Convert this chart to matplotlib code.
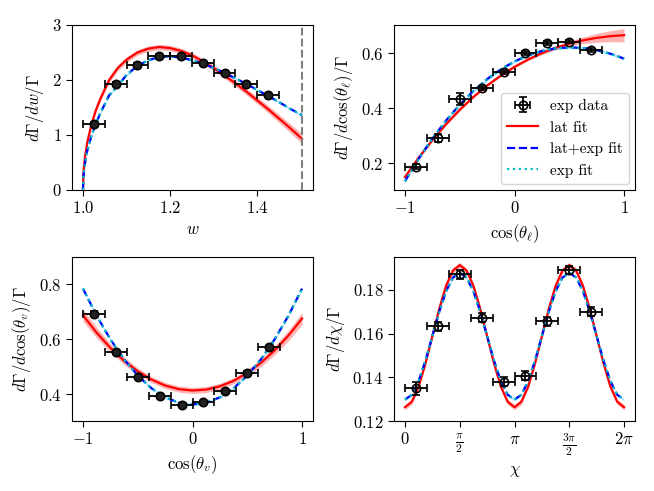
import numpy as np
import matplotlib
matplotlib.use("Agg")
import matplotlib.pyplot as plt

plt.rcParams['font.family'] = 'serif'
plt.rcParams['font.serif'] = ['cmr10']
plt.rcParams['mathtext.fontset'] = 'cm'
plt.rcParams['axes.formatter.use_mathtext'] = True
plt.rcParams['axes.unicode_minus'] = True

# ---------------- data: panel 1 (w) ----------------
w_data = [1.025, 1.075, 1.125, 1.175, 1.225, 1.275, 1.325, 1.375, 1.425]
w_vals = [1.20, 1.93, 2.28, 2.44, 2.43, 2.30, 2.13, 1.93, 1.72]
w_yerr = [0.03, 0.03, 0.03, 0.03, 0.03, 0.03, 0.03, 0.03, 0.03]
w_xerr = 0.025
w_max = 1.503
w_grid = [1.0, 1.001, 1.0025, 1.005, 1.01, 1.02, 1.03, 1.04, 1.06, 1.08, 1.10,
          1.125, 1.15, 1.175, 1.2, 1.225, 1.25, 1.275, 1.3, 1.325, 1.35, 1.375,
          1.4, 1.425, 1.45, 1.475, 1.503]
w_lat = [0, 0.28, 0.44, 0.62, 0.87, 1.21, 1.46, 1.66, 2.00, 2.22, 2.37, 2.50,
         2.57, 2.60, 2.58, 2.53, 2.45, 2.34, 2.22, 2.08, 1.94, 1.79, 1.63, 1.47,
         1.30, 1.13, 0.93]
w_lat_band = [0, 0.015, 0.02, 0.025, 0.03, 0.04, 0.045, 0.05, 0.05, 0.05, 0.05,
              0.05, 0.05, 0.05, 0.05, 0.05, 0.05, 0.05, 0.05, 0.052, 0.055, 0.058,
              0.062, 0.066, 0.072, 0.08, 0.09]
w_exp = [0, 0.23, 0.35, 0.50, 0.72, 1.00, 1.21, 1.40, 1.72, 1.90, 2.09, 2.26,
         2.36, 2.42, 2.43, 2.41, 2.36, 2.30, 2.22, 2.13, 2.03, 1.93, 1.82, 1.71,
         1.60, 1.48, 1.36]
w_exp_band = 0.02

# ---------------- data: panel 2 (cos theta_l) ----------------
cl_data = [-0.9, -0.7, -0.5, -0.3, -0.1, 0.1, 0.3, 0.5, 0.7]
cl_vals = [0.188, 0.291, 0.433, 0.473, 0.532, 0.600, 0.637, 0.642, 0.611]
cl_yerr = [0.010, 0.015, 0.022, 0.008, 0.007, 0.007, 0.007, 0.007, 0.007]
cl_xerr = 0.1
cl_grid = np.linspace(-1, 1, 17)
cl_lat = [0.150, 0.2204, 0.2843, 0.3422, 0.3944, 0.441, 0.4821, 0.5185, 0.550,
          0.5771, 0.6001, 0.619, 0.6344, 0.6464, 0.6553, 0.6614, 0.665]
cl_lat_band = [0.008, 0.007, 0.006, 0.005, 0.005, 0.004, 0.004, 0.004, 0.004,
               0.005, 0.006, 0.007, 0.009, 0.012, 0.016, 0.020, 0.024]
cl_exp = [0.135, 0.2166, 0.290, 0.3553, 0.4129, 0.4629, 0.5056, 0.5413, 0.570,
          0.5921, 0.6078, 0.6173, 0.6209, 0.6187, 0.611, 0.598, 0.580]
cl_exp_band = 0.005

# ---------------- data: panel 3 (cos theta_v) ----------------
cv_data = [-0.9, -0.7, -0.5, -0.3, -0.1, 0.1, 0.3, 0.5, 0.7]
cv_vals = [0.693, 0.553, 0.462, 0.394, 0.362, 0.371, 0.411, 0.478, 0.570]
cv_yerr = [0.008, 0.005, 0.005, 0.005, 0.005, 0.005, 0.005, 0.005, 0.005]
cv_xerr = 0.1
cv_grid = np.linspace(-1, 1, 17)
cv_lat = [0.687, 0.6234, 0.5683, 0.5214, 0.483, 0.4529, 0.4313, 0.418, 0.413,
          0.4164, 0.4283, 0.4484, 0.477, 0.5139, 0.5593, 0.6129, 0.675]
cv_lat_band = [0.022, 0.019, 0.016, 0.014, 0.012, 0.011, 0.011, 0.011, 0.011,
               0.011, 0.011, 0.011, 0.012, 0.014, 0.016, 0.019, 0.022]
cv_exp = [0.784, 0.6851, 0.5994, 0.5268, 0.4675, 0.4213, 0.3884, 0.3686, 0.362,
          0.3686, 0.3884, 0.4213, 0.4675, 0.5268, 0.5994, 0.6851, 0.784]
cv_exp_band = 0.004

# ---------------- data: panel 4 (chi) ----------------
chi_data = np.array([0.1, 0.3, 0.5, 0.7, 0.9, 1.1, 1.3, 1.5, 1.7]) * np.pi
chi_vals = [0.135, 0.1633, 0.187, 0.1673, 0.1379, 0.1408, 0.1656, 0.189, 0.170]
chi_yerr = [0.003, 0.002, 0.002, 0.002, 0.002, 0.002, 0.002, 0.002, 0.002]
chi_xerr = 0.1 * np.pi
chi_grid = np.arange(33) * np.pi / 16
chi_lat = [0.1263, 0.1288, 0.1358, 0.1464, 0.1588, 0.1712, 0.1818, 0.1888, 0.1913,
           0.1888, 0.1818, 0.1712, 0.1588, 0.1464, 0.1358, 0.1288, 0.1263,
           0.1288, 0.1358, 0.1464, 0.1588, 0.1712, 0.1818, 0.1888, 0.1913,
           0.1888, 0.1818, 0.1712, 0.1588, 0.1464, 0.1358, 0.1288, 0.1263]
chi_lat_band = 0.0012
chi_exp = [0.1298, 0.1320, 0.1383, 0.1477, 0.1588, 0.1699, 0.1793, 0.1856, 0.1878,
           0.1856, 0.1793, 0.1699, 0.1588, 0.1477, 0.1383, 0.1320, 0.1298,
           0.1320, 0.1383, 0.1477, 0.1588, 0.1699, 0.1793, 0.1856, 0.1878,
           0.1856, 0.1793, 0.1699, 0.1588, 0.1477, 0.1383, 0.1320, 0.1298]
chi_exp_band = 0.0005

chi_ticks = [0, np.pi / 2, np.pi, 3 * np.pi / 2, 2 * np.pi]
chi_ticklabels = [r'$0$', r'$\frac{\pi}{2}$', r'$\pi$', r'$\frac{3\pi}{2}$', r'$2\pi$']

# ---------------- figure ----------------
fig = plt.figure(figsize=(6.54, 4.91), dpi=100)
W, H = 654, 491
def ax_at(l, t, r, b):
    return fig.add_axes([l / W, 1 - b / H, (r - l) / W, (b - t) / H])

ax1 = ax_at(72, 25, 313, 190)
ax2 = ax_at(394, 25, 635, 190)
ax3 = ax_at(72, 257, 313, 421)
ax4 = ax_at(394, 257, 635, 421)

FS = 12

def draw(ax, x, lat, lat_b, exp, exp_b, xd, yd, xe, ye, filled):
    x = np.asarray(x)
    lat = np.asarray(lat); exp = np.asarray(exp)
    lat_b = np.asarray(lat_b) * np.ones_like(lat)
    exp_b = np.asarray(exp_b) * np.ones_like(exp)
    ax.fill_between(x, lat - lat_b, lat + lat_b, color='red', alpha=0.3, lw=0)
    ax.plot(x, lat, color='red', lw=1.6, label='lat fit')
    ax.fill_between(x, exp - exp_b, exp + exp_b, color='deepskyblue', alpha=0.35, lw=0)
    ax.plot(x, exp, color='blue', ls='--', lw=1.6, label='lat+exp fit')
    ax.plot(x, exp, color='c', ls=':', lw=1.6, label='exp fit')
    eb = ax.errorbar(xd, yd, xerr=xe, yerr=ye, fmt='o', color='k', ms=6,
                     mfc=('#222222' if filled else 'none'), mec='k', mew=1.2,
                     capsize=3, elinewidth=1.3, capthick=1.3, label='exp data',
                     zorder=5)
    ax.tick_params(labelsize=FS, direction='out', length=4)
    return eb

draw(ax1, w_grid, w_lat, w_lat_band, w_exp, w_exp_band,
     w_data, w_vals, w_xerr, w_yerr, True)
ax1.axvline(w_max, color='gray', ls='--', lw=1.5)
ax1.set_ylim(0, 3)
ax1.set_xticks([1.0, 1.2, 1.4])
ax1.set_yticks([0, 1, 2, 3])
ax1.set_xlabel(r'$w$', fontsize=FS)
ax1.set_ylabel(r'$d\Gamma/dw/\Gamma$', fontsize=FS)

draw(ax2, cl_grid, cl_lat, cl_lat_band, cl_exp, cl_exp_band,
     cl_data, cl_vals, cl_xerr, cl_yerr, False)
ax2.set_ylim(0.103, 0.702)
ax2.set_xticks([-1, 0, 1])
ax2.set_yticks([0.2, 0.4, 0.6])
ax2.set_xlabel(r'$\cos(\theta_\ell)$', fontsize=FS)
ax2.set_ylabel(r'$d\Gamma/d\cos(\theta_\ell)/\Gamma$', fontsize=FS)
h, l = ax2.get_legend_handles_labels()
order = [l.index('exp data'), l.index('lat fit'), l.index('lat+exp fit'), l.index('exp fit')]
ax2.legend([h[i] for i in order], [l[i] for i in order], loc='lower right',
           fontsize=11, framealpha=0.8, borderaxespad=0.4)

draw(ax3, cv_grid, cv_lat, cv_lat_band, cv_exp, cv_exp_band,
     cv_data, cv_vals, cv_xerr, cv_yerr, True)
ax3.set_ylim(0.302, 0.899)
ax3.set_xticks([-1, 0, 1])
ax3.set_yticks([0.4, 0.6, 0.8])
ax3.set_xlabel(r'$\cos(\theta_v)$', fontsize=FS)
ax3.set_ylabel(r'$d\Gamma/d\cos(\theta_v)/\Gamma$', fontsize=FS)

draw(ax4, chi_grid, chi_lat, chi_lat_band, chi_exp, chi_exp_band,
     chi_data, chi_vals, chi_xerr, chi_yerr, False)
ax4.set_ylim(0.12, 0.195)
ax4.set_xticks(chi_ticks)
ax4.set_xticklabels(chi_ticklabels)
ax4.set_yticks([0.12, 0.14, 0.16, 0.18])
ax4.set_yticklabels([r'$0.12$', r'$0.14$', r'$0.16$', r'$0.18$'])
ax4.set_xlabel(r'$\chi$', fontsize=FS)
ax4.set_ylabel(r'$d\Gamma/d\chi/\Gamma$', fontsize=FS)

fig.savefig('out.png', dpi=100)
